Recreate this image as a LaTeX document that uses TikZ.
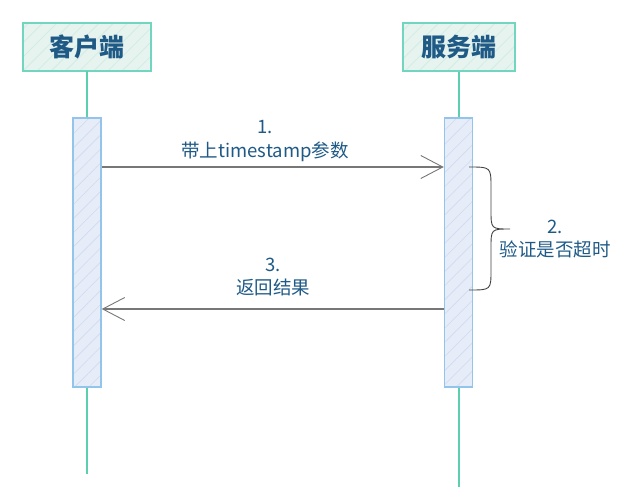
\documentclass[tikz,border=0pt]{standalone}
\usepackage{fontspec}
\setmainfont{Noto Sans CJK SC}
\usetikzlibrary{arrows.meta,patterns.meta}
\definecolor{hdrfill}{HTML}{E6F3EE}
\definecolor{hdrline}{HTML}{72D5C0}
\definecolor{hdrhatch}{HTML}{D2ECE3}
\definecolor{txtblue}{HTML}{1F5A86}
\definecolor{lifeline}{HTML}{5CCFB0}
\definecolor{actfill}{HTML}{E7EDF8}
\definecolor{actline}{HTML}{93C5EC}
\definecolor{acthatch}{HTML}{D3DDF1}
\definecolor{msg}{HTML}{777777}
\tikzset{
  header/.style={draw=hdrline, line width=1.5pt, minimum width=128pt, minimum height=48pt,
    inner sep=0pt, text=txtblue, font=\fontsize{25}{27}\selectfont\bfseries,
    preaction={fill=hdrfill},
    pattern={Lines[angle=45,distance=10pt,line width=0.8pt]}, pattern color=hdrhatch},
  activation/.style={draw=actline, line width=1.5pt, minimum width=28pt, minimum height=269pt,
    inner sep=0pt, preaction={fill=actfill},
    pattern={Lines[angle=45,distance=10pt,line width=0.8pt]}, pattern color=acthatch},
  lifelinestyle/.style={draw=lifeline, line width=1.5pt},
  message/.style={draw=msg, line width=1.3pt, -{Straight Barb[length=22pt,width=23pt,line width=0.9pt]}},
  lbl/.style={text=txtblue, font=\fontsize{18.5}{23.5}\selectfont, align=center},
  bracestyle/.style={draw=black!75, line width=0.9pt}
}
\begin{document}
\begin{tikzpicture}[x=1pt,y=-1pt]
\useasboundingbox (0,0) rectangle (636,490);
% headers
\node[header] (client) at (87,47) {客户端};
\node[header, minimum width=112pt] (server) at (459,47) {服务端};
% lifeline ends
\coordinate (clientend) at (87,474);
\coordinate (serverend) at (459,487);
% lifelines
\draw[lifelinestyle] (client.south) -- (clientend);
\draw[lifelinestyle] (server.south) -- (serverend);
% activations
\node[activation] (clientact) at (87,252.5) {};
\node[activation] (serveract) at (458.5,252.5) {};
% message anchor coordinates
\coordinate (m1s) at (clientact.east |- 0,167);
\coordinate (m1e) at (serveract.west |- 0,167);
\coordinate (m3s) at (serveract.west |- 0,309);
\coordinate (m3e) at (clientact.east |- 0,309);
\draw[message] (m1s) -- (m1e);
\draw[message] (m3s) -- (m3e);
% labels
\node[lbl] (l1) at (265,141) {1.\\带上timestamp参数};
\node[lbl] (l3) at (273,277) {3.\\返回结果};
\node[lbl] (l2) at (555,239) {2.\\验证是否超时};
% brace
\coordinate (bt) at (469,167);
\coordinate (bb) at (469,290);
\coordinate (btip) at (510,229);
\draw[bracestyle] (bt) .. controls (491,167) .. (491,188) -- (491,210)
  .. controls (491,229) .. (btip)
  .. controls (491,229) .. (491,248) -- (491,270)
  .. controls (491,290) .. (bb);
\end{tikzpicture}
\end{document}
